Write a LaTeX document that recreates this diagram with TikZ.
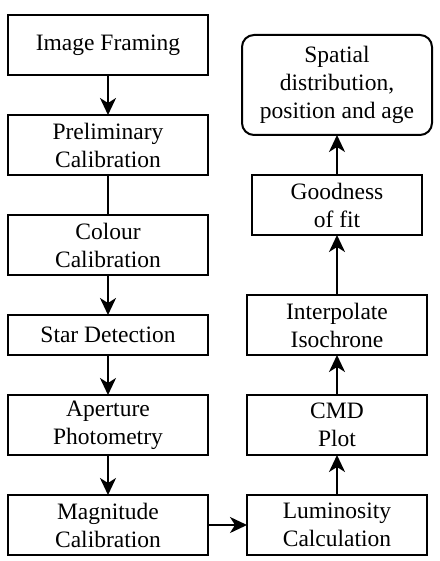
\documentclass[tikz,border=0pt]{standalone}
\usepackage{fontspec}
\setmainfont{Liberation Serif}
\usetikzlibrary{positioning,arrows.meta}

\begin{document}
\begin{tikzpicture}[-,auto,node distance=40pt,line width=2pt,
                    main node/.style={rectangle,draw,align=center,inner sep=0pt,outer sep=0pt,
                      minimum width=200pt,minimum height=60pt,
                      font=\fontsize{23.5}{28}\selectfont},
                    side node/.style={main node,minimum width=180pt},
                    flow/.style={-{Stealth[length=17pt,width=16pt,inset=5pt]}}]
  \useasboundingbox (0,0) rectangle (439pt,-561pt);

  \node[main node] (frame) at (108pt,-45pt) {Image Framing};
  \node[main node] (prelim) [below=of frame] {Preliminary\\Calibration};
  \node[main node] (colour) [below=of prelim] {Colour\\Calibration};
  \node[main node,minimum height=40pt] (detect) [below=of colour] {Star Detection};
  \node[main node] (aper) [below=of detect] {Aperture\\Photometry};
  \node[main node] (mag) [below=of aper] {Magnitude\\Calibration};
  \node[side node] (lum) [right=39pt of mag] {Luminosity\\Calculation};
  \node[side node] (cmd) [above=of lum] {CMD\\Plot};
  \node[side node] (iso) [above=of cmd] {Interpolate\\Isochrone};
  \node[side node,minimum width=170pt] (fit) [above=60pt of iso] {Goodness\\of fit};
  \node[side node,minimum width=190pt,minimum height=100pt,rounded corners=12pt] (result) [above=of fit] {Spatial\\distribution,\\position and age};

  \path
    (frame) edge[flow] (prelim)
    (prelim) edge (colour)
    (colour) edge[flow] (detect)
    (detect) edge[flow] (aper)
    (aper) edge[flow] (mag)
    (mag) edge[flow] (lum)
    (lum) edge[flow] (cmd)
    (cmd) edge[flow] (iso)
    (iso) edge[flow] (fit)
    (fit) edge[flow] (result);
\end{tikzpicture}
\end{document}
